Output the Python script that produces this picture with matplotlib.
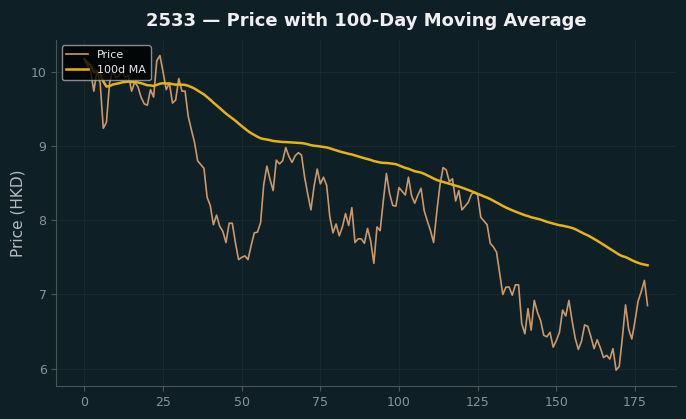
import matplotlib
matplotlib.use("Agg")
import matplotlib.pyplot as plt
import numpy as np
import pandas as pd

# daily close prices (day 0..179)
price = [
    10.17, 10.08, 10.00, 9.74, 10.02, 9.85, 9.24, 9.32, 9.85, 10.02,
    9.92, 9.95, 10.00, 9.93, 9.95, 9.74, 9.86, 9.80, 9.66, 9.57,
    9.55, 9.76, 9.66, 10.15, 10.22, 10.00, 9.76, 9.85, 9.58, 9.62,
    9.91, 9.74, 9.74, 9.40, 9.22, 9.05, 8.80, 8.75, 8.70, 8.31,
    8.20, 7.94, 8.07, 7.92, 7.85, 7.70, 7.96, 7.96, 7.70, 7.47,
    7.50, 7.52, 7.47, 7.66, 7.83, 7.84, 7.97, 8.48, 8.73, 8.55,
    8.40, 8.81, 8.76, 8.80, 8.98, 8.86, 8.78, 8.87, 8.91, 8.88,
    8.58, 8.35, 8.14, 8.46, 8.69, 8.49, 8.58, 8.47, 8.05, 7.83,
    7.95, 7.79, 7.91, 8.09, 7.93, 8.17, 7.70, 7.75, 7.75, 7.69,
    7.89, 7.72, 7.42, 7.91, 7.86, 8.26, 8.63, 8.36, 8.20, 8.19,
    8.44, 8.39, 8.34, 8.58, 8.33, 8.23, 8.34, 8.43, 8.13, 7.99,
    7.86, 7.70, 8.11, 8.47, 8.71, 8.68, 8.52, 8.56, 8.26, 8.40,
    8.14, 8.19, 8.24, 8.35, 8.38, 8.34, 8.04, 7.99, 7.94, 7.69,
    7.64, 7.57, 7.28, 7.00, 7.10, 7.10, 6.99, 7.13, 7.13, 6.61,
    6.47, 6.81, 6.52, 6.92, 6.76, 6.65, 6.45, 6.43, 6.49, 6.29,
    6.38, 6.49, 6.79, 6.71, 6.92, 6.65, 6.41, 6.26, 6.37, 6.59,
    6.57, 6.43, 6.27, 6.39, 6.28, 6.15, 6.18, 6.13, 6.27, 5.98,
    6.03, 6.42, 6.86, 6.53, 6.40, 6.64, 6.91, 7.04, 7.19, 6.85,
]
days = np.arange(len(price))
ma = pd.Series(price).rolling(100, min_periods=1).mean()

BG = "#0f1f26"

fig = plt.figure(figsize=(6.86, 4.19), dpi=100, facecolor=BG)
ax = fig.add_axes([0.082, 0.079, 0.903, 0.826])
ax.set_facecolor(BG)

ax.plot(days, price, color="#c9996b", linewidth=1.2, label="Price")
ax.plot(days, ma, color="#e6b412", linewidth=1.8, label="100d MA")

ax.grid(True, color="#1c2c33", linewidth=0.6)
for side in ["top", "right"]:
    ax.spines[side].set_visible(False)
for side in ["left", "bottom"]:
    ax.spines[side].set_color("#4a5558")
ax.tick_params(colors="#4a5558", labelcolor="#8a9497", labelsize=9)
ax.set_xticks([0, 25, 50, 75, 100, 125, 150, 175])
ax.set_yticks([6, 7, 8, 9, 10])

ax.set_ylabel("Price (HKD)", color="#b5bcbf", fontsize=11)
ax.set_title("2533 \u2014 Price with 100-Day Moving Average",
             color="#f0f0f0", fontsize=13, fontweight="bold", pad=10)

leg = ax.legend(loc="upper left", fontsize=8, facecolor="#000000",
                edgecolor="#aaaaaa", framealpha=0.8)
for t in leg.get_texts():
    t.set_color("#e8e8e8")

fig.savefig("out.png", dpi=100, facecolor=BG)
